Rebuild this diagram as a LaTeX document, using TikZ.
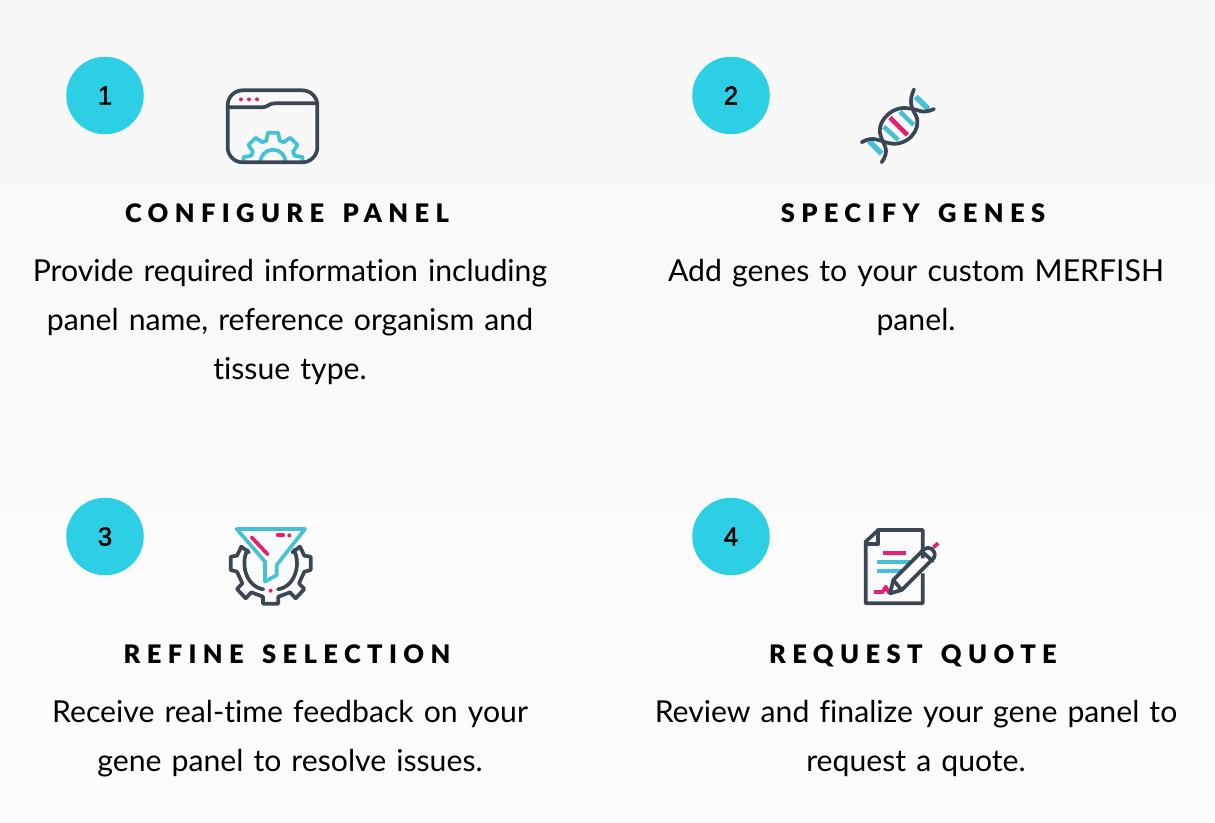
\documentclass[tikz,border=0pt]{standalone}
\usepackage{fontspec}
\setmainfont[Ligatures=NoCommon]{Lato}
\newfontfamily\titlefont[LetterSpace=25,WordSpace=1.5,Ligatures=NoCommon]{Lato Black}
\newfontfamily\badgefont[FakeBold=1.8]{Liberation Sans}
\usetikzlibrary{positioning}
\definecolor{badgecyan}{HTML}{2CCFE3}
\definecolor{iconcyan}{HTML}{45C1D6}
\definecolor{icondark}{HTML}{3A4654}
\definecolor{iconpink}{HTML}{E81E73}
\tikzset{
  x=1pt, y=-1pt,
  badge/.style={circle, fill=badgecyan, minimum size=77.5pt, inner sep=0pt, font=\fontsize{26}{26}\badgefont},
  titlebox/.style={inner sep=0pt, anchor=base, font=\fontsize{25.5}{25.5}\titlefont},
  bodybox/.style={inner sep=0pt, align=center, text width=580pt, font=\fontsize{30.2}{49}\selectfont},
  darkline/.style={draw=icondark, line width=3.7pt, line join=round, line cap=round},
  cyanline/.style={draw=iconcyan, line width=3.7pt, line join=round, line cap=round},
  pinkline/.style={draw=iconpink, line width=3.7pt, line join=round, line cap=round},
}
\begin{document}
\begin{tikzpicture}

\shade[top color=black!3, bottom color=black!1] (0,0) rectangle (1215,822);
\useasboundingbox (0,0) rectangle (1215,822);

\node (badge1) at (105,95.5) [badge] {1};
\node (badge2) at (731,95.5) [badge] {2};
\node (badge3) at (105,536.5) [badge] {3};
\node (badge4) at (731,536.5) [badge] {4};

\node (title1) at (287,222) [titlebox] {CONFIGURE PANEL};
\node (title2) at (913,222) [titlebox] {SPECIFY GENES};
\node (title3) at (287,663) [titlebox] {REFINE SELECTION};
\node (title4) at (913,663) [titlebox] {REQUEST QUOTE};

\node (body1) at (290,322) [bodybox] {Provide required information including\\panel name, reference organism and\\tissue type.};
\node (body2) at (916,297) [bodybox] {Add genes to your custom MERFISH\\panel.};
\node (body3) at (290,739) [bodybox] {Receive real-time feedback on your\\gene panel to resolve issues.};
\node (body4) at (916,738) [bodybox] {Review and finalize your gene panel to\\request a quote.};

\begin{scope}[shift={(210,75)}, scale=1/3]
\begin{scope}
\clip (50,45) rectangle (325,255);
\draw[cyanline, shift={(189,262)}] (-17:68)
  \foreach \a in {0,45,...,315} { -- (\a-17:68) -- (\a-10:90) -- (\a+10:90) -- (\a+17:68) } -- cycle;
\draw[cyanline] (189,262) circle (38);
\end{scope}
\draw[darkline, rounded corners=15pt] (53,46) rectangle (322,262);
\draw[darkline] (53,97) -- (155,97) .. controls (175,97) and (175,85) .. (195,85) -- (322,85);
\fill[iconpink] (93,73) circle (6) (117,73) circle (6) (141,73) circle (6);
\end{scope}

\begin{scope}[shift={(845,75)}, scale=1/3]
\draw[cyanline, line width=5.5pt, line cap=butt] (212,65) -- (250,102);
\draw[cyanline, line width=5.5pt, line cap=butt] (72,198) -- (110,236);
\draw[cyanline, line cap=butt, line width=4.5pt] (165,110) -- (206,150);
\draw[pinkline, line cap=butt, line width=4.5pt] (135,128) -- (187,180);
\draw[cyanline, line cap=butt, line width=4.5pt] (116,155) -- (160,195);
\draw[darkline] (207,43) .. controls (190,80) and (200,100) .. (213,122) .. controls (232,165) and (185,215) .. (135,205) .. controls (105,200) and (85,180) .. (50,202);
\draw[darkline] (267,102) .. controls (230,120) and (215,100) .. (190,100) .. controls (135,90) and (90,150) .. (108,185) .. controls (118,215) and (135,225) .. (110,262);
\end{scope}

\begin{scope}[shift={(215,515)}, scale=1/3]
\draw[darkline] (232,112) -- (255,95) -- (268,122) -- (287,125) -- (287,165) -- (268,170) -- (252,205) -- (268,222) -- (242,250) -- (225,232) -- (190,245) -- (190,266) -- (144,266) -- (144,245) -- (109,232) -- (92,250) -- (66,222) -- (82,205) -- (66,170) -- (47,165) -- (47,125) -- (66,122) -- (79,95) -- (102,112);
\draw[darkline] (97,105) .. controls (75,150) and (95,215) .. (145,223);
\draw[darkline] (237,105) .. controls (259,150) and (239,215) .. (189,223);
\draw[cyanline] (65,42) -- (270,42) -- (185,150) -- (185,180) -- (150,200) -- (150,140) -- cycle;
\draw[pinkline] (110,67) -- (158,118);
\draw[pinkline] (188,61) -- (205,61);
\fill[iconpink] (223,61) circle (6) (167,227) circle (6);
\end{scope}

\begin{scope}[shift={(850,515)}, scale=1/3]
\draw[darkline, line cap=butt] (218,130) -- (218,45) -- (85,45) -- (47,80) -- (47,265) -- (218,265) -- (218,175);
\draw[darkline] (85,45) -- (85,88) -- (47,88);
\draw[pinkline, line cap=butt] (100,113) -- (167,113);
\draw[cyanline, line cap=butt] (80,140) -- (185,140);
\draw[cyanline, line cap=butt] (80,167) -- (155,167);
\draw[pinkline, line cap=butt] (72,231) -- (98,231) -- (107,215) -- (118,235);
\draw[pinkline, line cap=butt] (250,97) -- (265,85);
\draw[darkline] (120,235) -- (130,195) -- (222,103) .. controls (235,90) and (262,105) .. (252,128) -- (155,225) -- cycle;
\draw[darkline] (130,195) -- (155,225);
\draw[darkline] (214,108) -- (248,138);
\end{scope}

\end{tikzpicture}
\end{document}
